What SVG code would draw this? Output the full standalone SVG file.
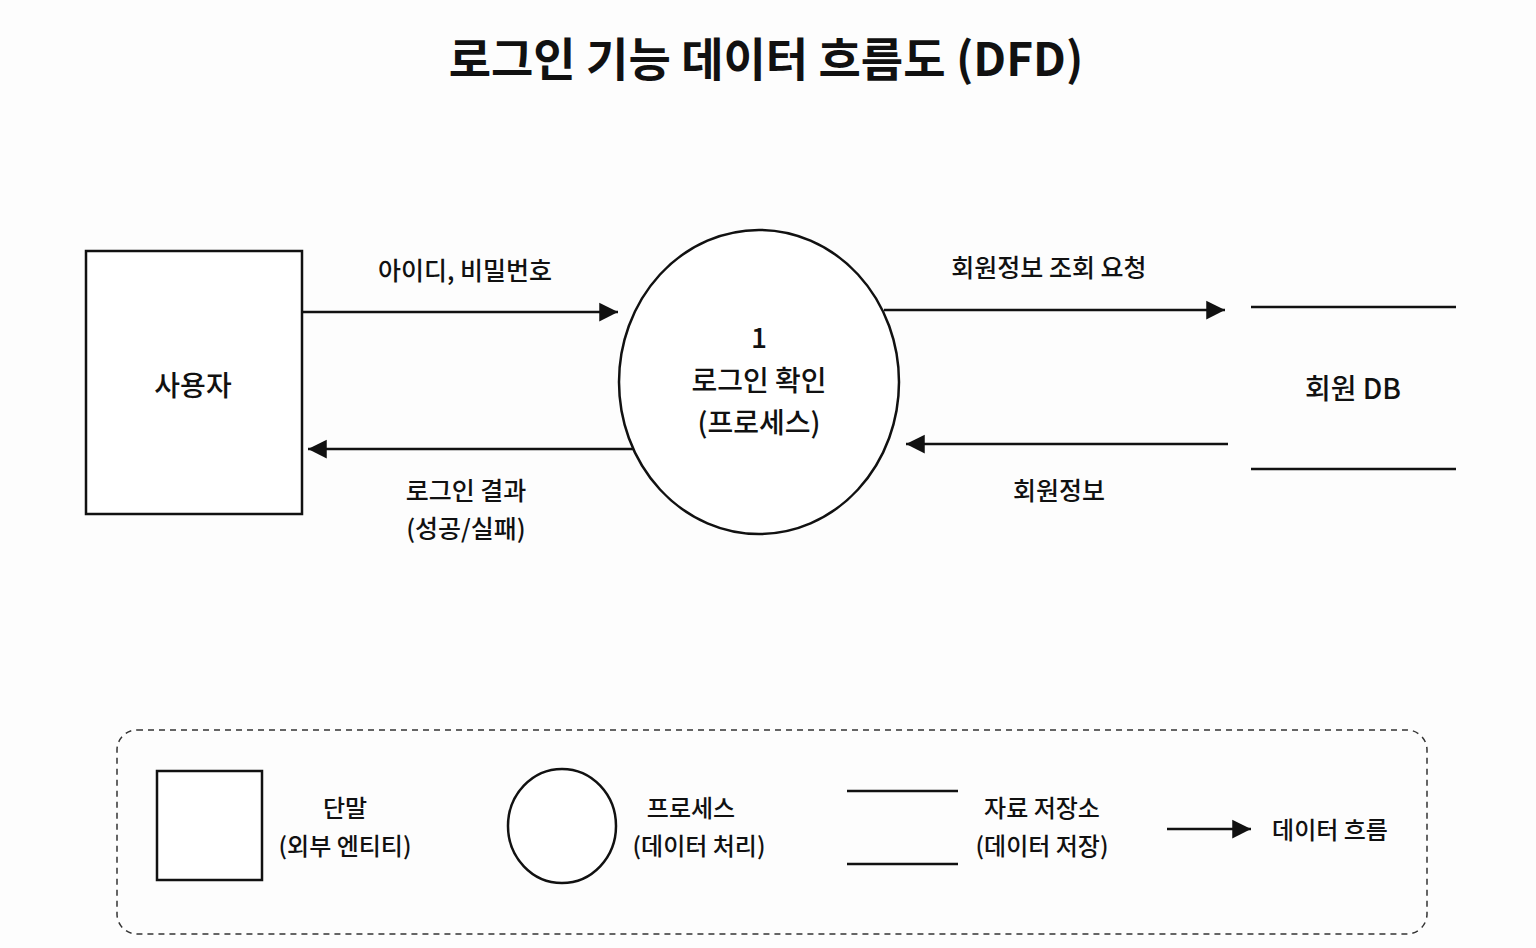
<svg xmlns="http://www.w3.org/2000/svg" width="1536" height="948" viewBox="0 0 1536 948">
<defs>
<style>
text{font-family:"Noto Sans CJK KR","Noto Sans",sans-serif;fill:#111;text-anchor:middle;dominant-baseline:central;font-weight:500}
.t{font-size:46px;font-weight:700}
.n{font-size:28px}
.l{font-size:25px}
.g{font-size:24px}
.s{fill:#fff;stroke:#111;stroke-width:2.5}
.ln{stroke:#111;stroke-width:2.5;fill:none}
.f{stroke:#111;stroke-width:2.5;fill:none;marker-end:url(#ah)}
</style>
<marker id="ah" viewBox="0 0 10 10" refX="10" refY="5" markerWidth="7.5" markerHeight="8.5" markerUnits="strokeWidth" orient="auto"><path d="M0,0L10,5L0,10z" fill="#111"/></marker>
</defs>
<rect width="1536" height="948" fill="#fdfdfd"/>
<text class="t" x="766" y="56">로그인 기능 데이터 흐름도 (DFD)</text>
<g id="user"><rect class="s" x="86" y="251" width="216" height="263"/><text class="n" x="193" y="384">사용자</text></g>
<g id="process"><ellipse class="s" cx="759" cy="382" rx="140" ry="152"/><text class="n" x="759" y="336">1</text><text class="n" x="759" y="379">로그인 확인</text><text class="n" x="759" y="421">(프로세스)</text></g>
<g id="memberdb"><line class="ln" x1="1251" y1="307" x2="1456" y2="307"/><line class="ln" x1="1251" y1="469" x2="1456" y2="469"/><text class="n" x="1353" y="387">회원 DB</text></g>
<g id="connectors">
<line class="f" x1="302" y1="312" x2="618" y2="312"/>
<text class="l" x="465" y="269">아이디, 비밀번호</text>
<line class="f" x1="633" y1="449" x2="308" y2="449"/>
<text class="l" x="466" y="489">로그인 결과</text>
<text class="l" x="466" y="527">(성공/실패)</text>
<line class="f" x1="884" y1="310" x2="1225" y2="310"/>
<text class="l" x="1049" y="266">회원정보 조회 요청</text>
<line class="f" x1="1228" y1="444" x2="906" y2="444"/>
<text class="l" x="1059" y="489">회원정보</text>
</g>
<g id="legend">
<rect x="117" y="730" width="1310" height="204" rx="20" fill="none" stroke="#333" stroke-width="1.5" stroke-dasharray="6,5"/>
<rect class="s" x="157" y="771" width="105" height="109"/>
<text class="g" x="345" y="806">단말</text><text class="g" x="345" y="844">(외부 엔티티)</text>
<ellipse class="s" cx="562" cy="826" rx="54" ry="57"/>
<text class="g" x="691" y="806">프로세스</text><text class="g" x="699" y="844">(데이터 처리)</text>
<line class="ln" x1="847" y1="791" x2="958" y2="791"/><line class="ln" x1="847" y1="864" x2="958" y2="864"/>
<text class="g" x="1042" y="806">자료 저장소</text><text class="g" x="1042" y="844">(데이터 저장)</text>
<line class="f" x1="1167" y1="829" x2="1251" y2="829"/>
<text class="g" x="1330" y="828">데이터 흐름</text>
</g>
</svg>
